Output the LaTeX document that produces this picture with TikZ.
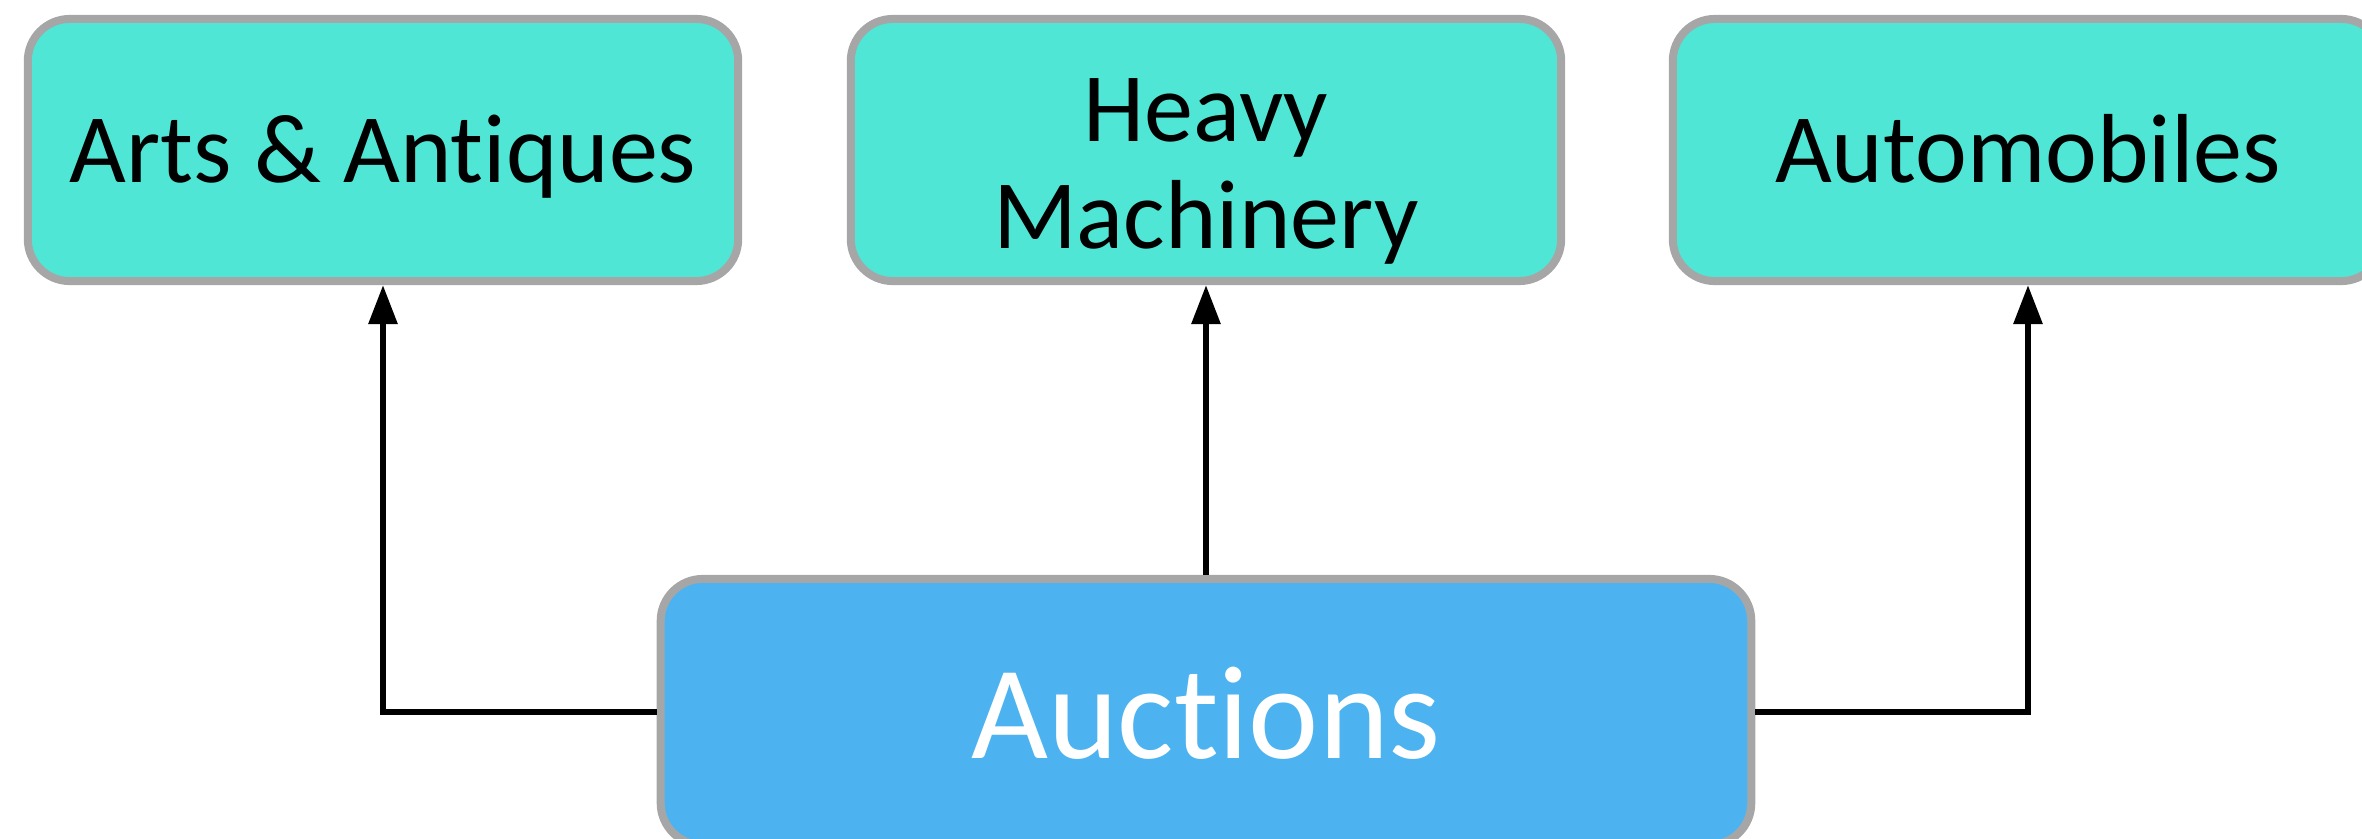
\documentclass[tikz,border=0pt]{standalone}
\usepackage{fontspec}
\setmainfont{Carlito}[RawFeature={-liga,-dlig,-clig,-calt}]
\usetikzlibrary{arrows.meta}
\definecolor{leaf}{RGB}{80,230,213}
\definecolor{root}{RGB}{77,179,240}
\definecolor{rim}{RGB}{166,166,166}
\begin{document}
\begin{tikzpicture}[x=0.01cm,y=-0.01cm,
  box/.style={draw=rim, line width=0.08cm, rounded corners=0.42cm, inner sep=0pt},
  leafbox/.style={box, fill=leaf, minimum width=7.10cm, minimum height=2.62cm,
    font=\fontsize{27.9}{30.4}\selectfont},
  rootbox/.style={box, fill=root, text=white, minimum width=10.90cm, minimum height=2.66cm,
    font=\fontsize{37.8}{40}\selectfont},
  link/.style={line width=0.06cm, -{Triangle[length=0.39cm,width=0.28cm]}}
]
\useasboundingbox (0,0) rectangle (2362,839);

% category boxes
\node[leafbox, text height=0.64cm, text depth=0pt] (arts) at (383,150) {Arts \& Antiques};
\node[leafbox, align=center, text height=1.96cm, text depth=0pt] (heavy) at (1206,150) {Heavy\\Machinery};
\node[leafbox, text height=0.64cm, text depth=0pt] (auto) at (2028,150) {Automobiles};

% root box
\node[rootbox, text height=0.92cm, text depth=0pt] (auc) at (1206,712) {Auctions};

% connectors
\draw[link] (auc.west) -| (arts.south);
\draw[link] (auc.north) -- (heavy.south);
\draw[link] (auc.east) -| (auto.south);
\end{tikzpicture}
\end{document}
